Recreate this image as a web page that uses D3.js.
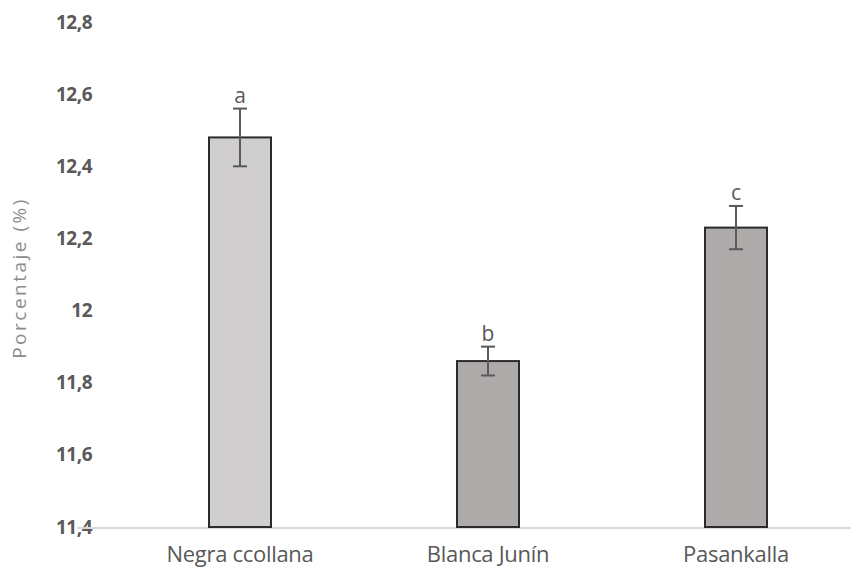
<!DOCTYPE html>
<html>
<head>
<meta charset="utf-8">
<script src="https://cdn.jsdelivr.net/npm/d3@7"></script>
<style>
  body { margin: 0; background: #fff; }
  svg { display: block; font-family: "Open Sans", sans-serif; }
</style>
</head>
<body>
<div id="chart"></div>
<script>
// data
const categories = ['Negra ccollana', 'Blanca Junín', 'Pasankalla'];
const values = [12.48, 11.86, 12.23];
const errors = [0.08, 0.04, 0.06];
const letters = ['a', 'b', 'c'];
const yTicks = [11.4, 11.6, 11.8, 12, 12.2, 12.4, 12.6, 12.8];
const fills = ['#d0cecf', '#aeaaa9', '#aeaaa9'];

const width = 851;
const height = 574;

const svg = d3.select('#chart')
  .append('svg')
  .attr('width', width)
  .attr('height', height);

const x = d3.scaleBand()
  .domain(categories)
  .range([116, 860]);

const y = d3.scaleLinear()
  .domain([11.4, 12.8])
  .range([527, 22]);

const fmt = d => String(d).replace('.', ',');

// y tick labels (no axis line in the original)
const yAxis = d3.axisLeft(y)
  .tickValues(yTicks)
  .tickFormat(fmt)
  .tickSize(0)
  .tickPadding(0);

svg.append('g')
  .attr('transform', 'translate(92,0)')
  .call(yAxis)
  .call(g => g.select('.domain').remove())
  .selectAll('text')
  .attr('fill', '#595959')
  .attr('font-size', 19)
  .attr('font-weight', 'bold')
  .attr('font-family', '"Open Sans", sans-serif')
  .style('letter-spacing', '-0.5px');

// baseline
svg.append('line')
  .attr('x1', 77)
  .attr('x2', width)
  .attr('y1', y(11.4) + 1)
  .attr('y2', y(11.4) + 1)
  .attr('stroke', '#d9d9d9')
  .attr('stroke-width', 2);

const barWidth = 62;
const cx = (i) => x(categories[i]) + x.bandwidth() / 2;

svg.selectAll('rect.bar')
  .data(values)
  .enter()
  .append('rect')
  .attr('class', 'bar')
  .attr('x', (d, i) => cx(i) - barWidth / 2)
  .attr('y', d => y(d))
  .attr('width', barWidth)
  .attr('height', d => y(11.4) - y(d))
  .attr('fill', (d, i) => fills[i])
  .attr('stroke', '#2b2b2b')
  .attr('stroke-width', 2);

// error bars
const err = svg.selectAll('g.err')
  .data(values)
  .enter()
  .append('g')
  .attr('class', 'err')
  .attr('stroke', '#5a5a5a')
  .attr('stroke-width', 2);

err.append('line')
  .attr('x1', (d, i) => cx(i))
  .attr('x2', (d, i) => cx(i))
  .attr('y1', (d, i) => y(d + errors[i]))
  .attr('y2', (d, i) => y(d - errors[i]));

err.append('line')
  .attr('x1', (d, i) => cx(i) - 7)
  .attr('x2', (d, i) => cx(i) + 7)
  .attr('y1', (d, i) => y(d + errors[i]))
  .attr('y2', (d, i) => y(d + errors[i]));

err.append('line')
  .attr('x1', (d, i) => cx(i) - 7)
  .attr('x2', (d, i) => cx(i) + 7)
  .attr('y1', (d, i) => y(d - errors[i]))
  .attr('y2', (d, i) => y(d - errors[i]));

// significance letters
svg.selectAll('text.letter')
  .data(values)
  .enter()
  .append('text')
  .attr('class', 'letter')
  .attr('x', (d, i) => cx(i))
  .attr('y', (d, i) => y(d + errors[i]) - 6)
  .attr('text-anchor', 'middle')
  .attr('fill', '#595959')
  .attr('font-size', 21)
  .text((d, i) => letters[i]);

// category labels
const xAxis = d3.axisBottom(x).tickSize(0).tickPadding(0);
svg.append('g')
  .attr('transform', `translate(0,${y(11.4) + 19})`)
  .call(xAxis)
  .call(g => g.select('.domain').remove())
  .selectAll('text')
  .attr('fill', '#595959')
  .attr('font-size', 22)
  .attr('font-family', '"Open Sans", sans-serif')
  .style('letter-spacing', '-0.3px');

// y axis title
svg.append('text')
  .attr('transform', 'translate(26,278) rotate(-90)')
  .attr('text-anchor', 'middle')
  .attr('fill', '#8c8c8c')
  .attr('font-size', 19)
  .attr('font-family', '"Open Sans", sans-serif')
  .style('letter-spacing', '2.5px')
  .text('Porcentaje  (%)');
</script>
</body>
</html>
